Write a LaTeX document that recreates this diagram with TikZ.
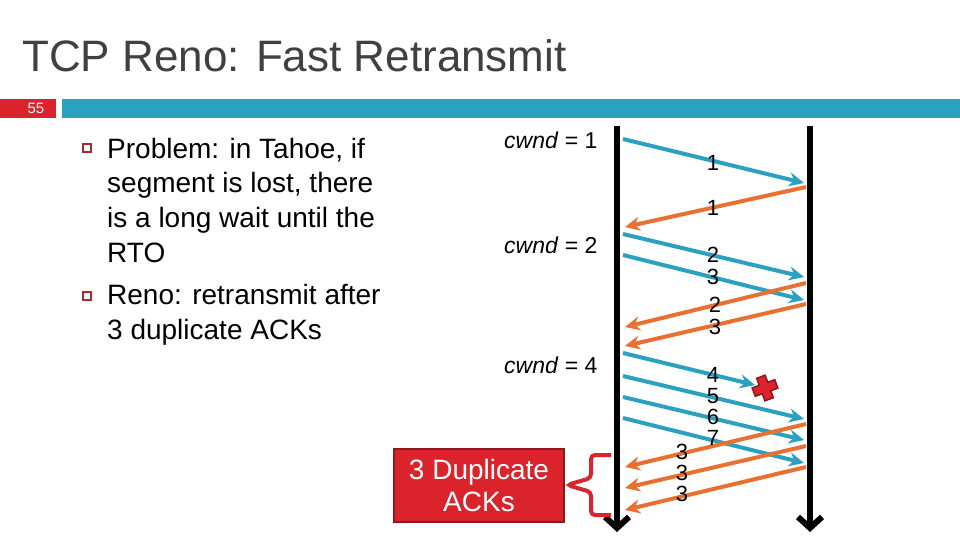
\documentclass[tikz,border=0pt]{standalone}
\usepackage{fontspec}
\setmainfont{Liberation Sans}
\usetikzlibrary{arrows.meta}
\definecolor{barblue}{RGB}{44,160,193}
\definecolor{segblue}{RGB}{44,160,193}
\definecolor{ackorange}{RGB}{232,112,48}
\definecolor{slidered}{RGB}{218,35,42}
\definecolor{darkred}{RGB}{140,25,30}
\definecolor{bulletred}{RGB}{170,40,46}
\definecolor{titlegray}{RGB}{64,64,64}
\begin{document}
\begin{tikzpicture}[x=1pt,y=-1pt,
  seg/.style={segblue, line width=4pt, -{Stealth[length=15pt,width=14pt]}},
  ack/.style={ackorange, line width=4pt, -{Stealth[length=15pt,width=14pt]}},
  timeline/.style={black, line width=6pt, -{Straight Barb[length=11pt,width=24pt]}},
  num/.style={font=\fontsize{22}{22}\selectfont, inner sep=0pt},
  cwndlbl/.style={font=\fontsize{23}{23}\selectfont, inner sep=0pt, anchor=base west},
  body/.style={font=\fontsize{28}{28}\selectfont, inner sep=0pt, anchor=base west},
  bulletbox/.style={draw=bulletred, line width=1.4pt, minimum size=8pt, inner sep=0pt}
]
\useasboundingbox (0,0) rectangle (960,540);
\fill[white] (0,0) rectangle (960,540);

% title and header bar
\node[anchor=base west, font=\fontsize{44}{44}\selectfont, text=titlegray, inner sep=0pt] (title) at (22,72) {TCP Reno: Fast Retransmit};
\fill[slidered] (0,99) rectangle (56,118);
\fill[barblue] (62,99) rectangle (960,118);
\node[text=white, font=\fontsize{15}{15}\selectfont, inner sep=0pt] (pagenum) at (36,108.5) {55};

% bullets
\node[bulletbox] (b1) at (87,148) {};
\node[bulletbox] (b2) at (87,296) {};
\node[body] (l1) at (107,159) {Problem: in Tahoe, if};
\node[body] (l2) at (107,193) {segment is lost, there};
\node[body] (l3) at (107,227) {is a long wait until the};
\node[body] (l4) at (107,262) {RTO};
\node[body] (l5) at (107,304) {Reno: retransmit after};
\node[body] (l6) at (107,339) {3 duplicate ACKs};

% cwnd labels
\node[cwndlbl] (c1) at (504,149) {\textit{cwnd} = 1};
\node[cwndlbl] (c2) at (504,253) {\textit{cwnd} = 2};
\node[cwndlbl] (c4) at (504,373) {\textit{cwnd} = 4};

% timelines
\coordinate (stop) at (617,126);
\coordinate (sbot) at (617,532);
\coordinate (rtop) at (810,126);
\coordinate (rbot) at (810,532);
\draw[timeline] (stop) -- (sbot);
\draw[timeline] (rtop) -- (rbot);

% segment endpoints
\coordinate (s1a) at (623,139); \coordinate (s1b) at (804,183);
\coordinate (a1a) at (806,187); \coordinate (a1b) at (625,227);
\coordinate (s2a) at (623,234); \coordinate (s2b) at (804,277);
\coordinate (s3a) at (623,255); \coordinate (s3b) at (804,300);
\coordinate (a2a) at (806,283); \coordinate (a2b) at (625,327);
\coordinate (a3a) at (806,304); \coordinate (a3b) at (625,346);
\coordinate (s4a) at (623,353); \coordinate (s4b) at (755,385);
\coordinate (s5a) at (623,376); \coordinate (s5b) at (804,419);
\coordinate (s6a) at (623,397); \coordinate (s6b) at (804,440);
\coordinate (s7a) at (623,418); \coordinate (s7b) at (804,463);
\coordinate (d1a) at (806,424); \coordinate (d1b) at (625,467);
\coordinate (d2a) at (806,446); \coordinate (d2b) at (625,488);
\coordinate (d3a) at (806,467); \coordinate (d3b) at (625,510);

\draw[seg] (s1a) -- (s1b);
\draw[ack] (a1a) -- (a1b);
\draw[seg] (s2a) -- (s2b);
\draw[seg] (s3a) -- (s3b);
\draw[ack] (a2a) -- (a2b);
\draw[ack] (a3a) -- (a3b);
\draw[seg] (s4a) -- (s4b);
\draw[seg] (s5a) -- (s5b);
\draw[seg] (s6a) -- (s6b);
\draw[seg] (s7a) -- (s7b);
\draw[ack] (d1a) -- (d1b);
\draw[ack] (d2a) -- (d2b);
\draw[ack] (d3a) -- (d3b);

% loss marker
\draw[fill=slidered, draw=darkred, line width=1.5pt, rotate around={20:(765,388)}, shift={(765,388)}]
  (-4.5,-12) -- (4.5,-12) -- (4.5,-4.5) -- (12,-4.5) -- (12,4.5) -- (4.5,4.5) -- (4.5,12)
  -- (-4.5,12) -- (-4.5,4.5) -- (-12,4.5) -- (-12,-4.5) -- (-4.5,-4.5) -- cycle;

% number labels
\node[num] (n1) at (713,163) {1};
\node[num] (n1a) at (713,208) {1};
\node[num] (n2) at (713,255) {2};
\node[num] (n3) at (713,277) {3};
\node[num] (n2a) at (715,305) {2};
\node[num] (n3a) at (715,327) {3};
\node[num] (n4) at (713,375) {4};
\node[num] (n5) at (713,396) {5};
\node[num] (n6) at (713,417) {6};
\node[num] (n7) at (713,438) {7};
\node[num] (d1) at (682,452) {3};
\node[num] (d2) at (682,473) {3};
\node[num] (d3) at (682,494) {3};

% duplicate ACK callout
\node[fill=slidered, draw=darkred, line width=2pt, minimum width=170pt, minimum height=73pt,
      align=center, text=white, font=\fontsize{28}{32}\selectfont, inner sep=0pt] (dup) at (479,485)
      {3 Duplicate\\ACKs};
\draw[slidered, line width=4pt, rounded corners=4pt]
  (611,455) -- (591,455) -- (591,478) -- (567,485) -- (591,492) -- (591,515) -- (611,515);
\end{tikzpicture}
\end{document}
